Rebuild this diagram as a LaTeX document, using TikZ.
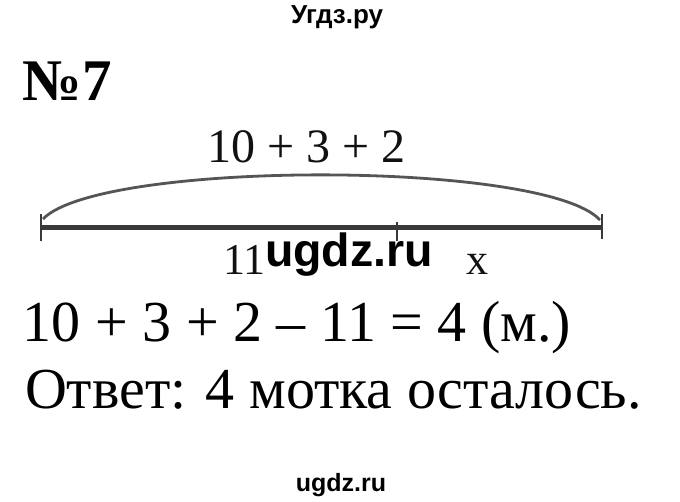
\documentclass[tikz,border=0pt]{standalone}
\usepackage{fontspec}
\setmainfont{Liberation Serif}
\newfontfamily\wmfont{Liberation Sans}
\definecolor{linegray}{HTML}{3A3A3A}
\definecolor{arcgray}{HTML}{555555}
\definecolor{txt}{HTML}{111111}
\begin{document}
\begin{tikzpicture}[x=1pt,y=-1pt,
  lbl/.style={inner sep=0pt,outer sep=0pt,text=txt},
  wm/.style={inner sep=0pt,outer sep=0pt,text=black,font=\wmfont\bfseries},
  seg/.style={draw=linegray,line width=5pt},
  tick/.style={draw=linegray,line width=2.8pt},
  arcline/.style={draw=arcgray,line width=2.8pt}]
\useasboundingbox[fill=white] (0,0) rectangle (680,502);
% header
\node[wm,anchor=base,font=\wmfont\bfseries\fontsize{26}{28}\selectfont] (head) at (337,24) {Угдз.ру};
\node[lbl,anchor=base west,text=black,font=\bfseries\fontsize{59}{62}\selectfont] (num) at (23,101) {№7};
% segment diagram
\coordinate (L) at (41,228);
\coordinate (R) at (603,228);
\coordinate (M) at (397,228);
\draw[seg] (L) -- (R);
\draw[tick] ([yshift=-13pt]L) -- ([yshift=14pt]L);
\draw[tick] ([yshift=-11pt,xshift=-1pt]R) -- ([yshift=14pt,xshift=-1pt]R);
\draw[tick] ([yshift=-13pt]M) -- ([yshift=6pt]M);
\draw[arcline] (43,219) .. controls (100,160) and (545,160) .. (600,220);
\node[lbl,anchor=base west,font=\fontsize{48}{50}\selectfont] (sum) at (207,163) {10 + 3 + 2};
\node[lbl,anchor=base west,font=\fontsize{44}{46}\selectfont] (eleven) at (223,275) {11};
\node[lbl,anchor=base,font=\fontsize{44}{46}\selectfont] (xlab) at (477.5,275) {x};
\node[wm,anchor=base west,font=\wmfont\bfseries\fontsize{46.5}{48}\selectfont] (wm1) at (265,267) {ugdz.ru};
% solution
\node[lbl,anchor=base west,text=black,font=\fontsize{58}{60}\selectfont] (eq) at (23,342) {10 + 3 + 2 – 11 = 4 (м.)};
\node[lbl,anchor=base west,text=black,font=\fontsize{58}{60}\selectfont] (ans) at (25,408) {Ответ: 4 мотка осталось.};
\node[wm,anchor=base,font=\wmfont\bfseries\fontsize{25}{27}\selectfont] (wm2) at (341,491) {ugdz.ru};
\end{tikzpicture}
\end{document}
